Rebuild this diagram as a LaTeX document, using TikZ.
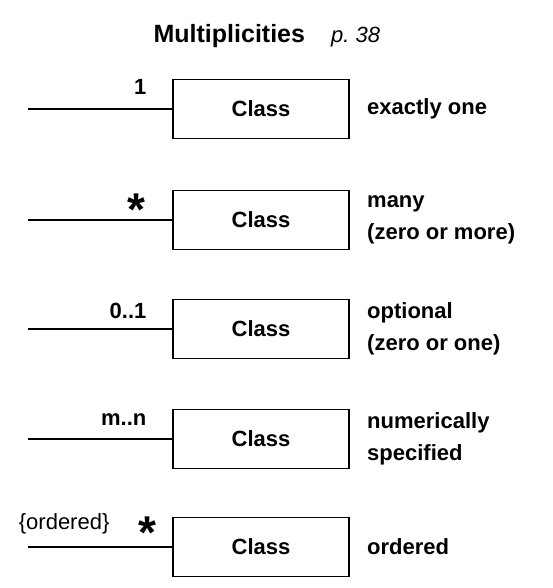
\documentclass[tikz,border=0pt]{standalone}
\usepackage{fontspec}
\setmainfont{Liberation Sans}
\usetikzlibrary{positioning}

\begin{document}
\begin{tikzpicture}
  [x=1pt,y=-1pt,line width=1.2pt,
   every node/.style={inner sep=0pt,font=\fontsize{22}{32}\selectfont\bfseries},
   classbox/.style={draw,minimum width=176pt,minimum height=59pt},
   note/.style={align=left},
   mult/.style={anchor=base east},
   star/.style={anchor=north,font=\fontsize{46}{46}\selectfont\bfseries}]
  \useasboundingbox (0,0) rectangle (552,588);
  \node[anchor=base west,font=\fontsize{25}{30}\selectfont\bfseries] (title) at (153,43) {Multiplicities};
  \node[base right=25pt of title,font=\fontsize{22}{26}\selectfont\itshape] (page) {p.\ 38};

  \node[classbox] (c1) at (261,109) {Class};
  \node[classbox] (c2) at (261,220) {Class};
  \node[classbox] (c3) at (261,329) {Class};
  \node[classbox] (c4) at (261,439) {Class};
  \node[classbox] (c5) at (261,547) {Class};
  \coordinate (l1) at (28,109);
  \coordinate (l2) at (28,220);
  \coordinate (l3) at (28,329);
  \coordinate (l4) at (28,439);
  \coordinate (l5) at (28,547);

\foreach \from/\to in
{l1/c1, l2/c2, l3/c3, l4/c4, l5/c5}
    \draw (\from) -- (\to);

  % multiplicities
  \node[mult] (m1) at (147,95) {1};
  \node[star] (m2) at (136,193) {*};
  \node[mult] (m3) at (147,318) {0..1};
  \node[mult] (m4) at (147,425) {m..n};
  \node[star] (m5) at (147,516) {*};
  \node[anchor=base east,font=\fontsize{22}{26}\selectfont] (o5) at (110,529) {\{ordered\}};

  % meanings
  \node[note,right=17pt of c1] (n1) {exactly one};
  \node[note,right=17pt of c2] (n2) {many\\(zero or more)};
  \node[note,right=17pt of c3] (n3) {optional\\(zero or one)};
  \node[note,right=17pt of c4] (n4) {numerically\\specified};
  \node[note,right=17pt of c5] (n5) {ordered};
\end{tikzpicture}
\end{document}
